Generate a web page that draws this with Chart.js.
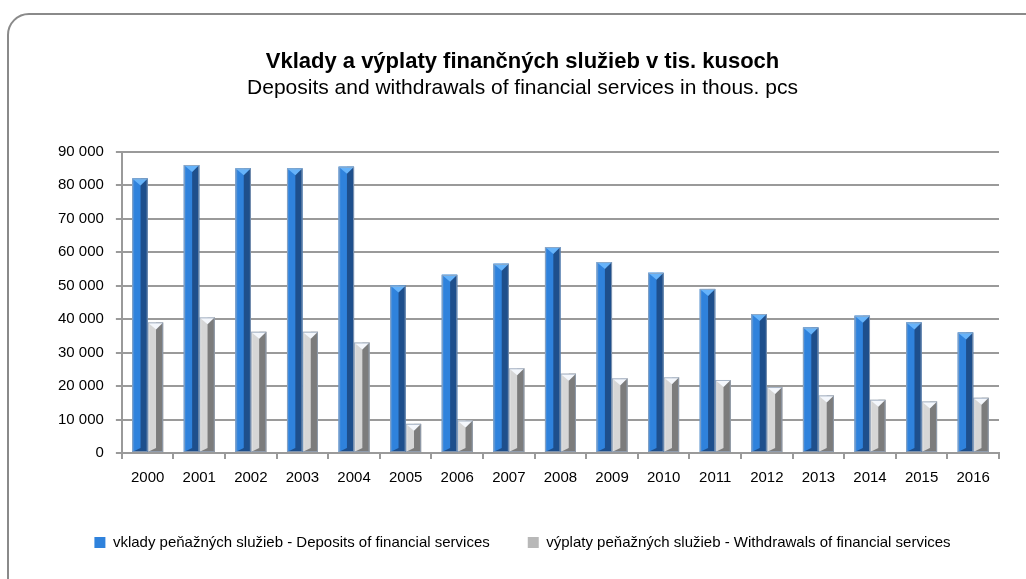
<!DOCTYPE html>
<html>
<head>
<meta charset="utf-8">
<script src="https://cdn.jsdelivr.net/npm/chart.js@4/dist/chart.umd.min.js"></script>
<style>
  html, body { margin: 0; padding: 0; background: #fff; overflow: hidden; }
  #wrap { position: relative; width: 1026px; height: 579px; }
  #frame {
    position: absolute; left: 7px; top: 13px; width: 1040px; height: 590px;
    border: 2px solid #8a8a8a; border-radius: 22px; box-sizing: border-box;
  }
  #chartCanvas { position: absolute; left: 0; top: 0; }
</style>
</head>
<body>
<div id="wrap">
  <div id="frame"></div>
  <canvas id="chartCanvas" width="1026" height="579"></canvas>
</div>
<script>
// Chart data.
var years = ['2000', '2001', '2002', '2003', '2004', '2005', '2006', '2007', '2008',
             '2009', '2010', '2011', '2012', '2013', '2014', '2015', '2016'];
var deposits = [82000, 86000, 85000, 85000, 85500, 50000, 53200, 56500, 61500,
                57000, 53800, 49000, 41500, 37500, 41000, 39000, 36000];
var withdrawals = [39000, 40500, 36200, 36200, 33000, 8700, 9700, 25300, 23700,
                   22300, 22600, 21800, 19700, 17200, 15900, 15400, 16500];
var depositsLabel = 'vklady peňažných služieb - Deposits of financial services';
var withdrawalsLabel = 'výplaty peňažných služieb - Withdrawals of financial services';
var titleText = 'Vklady a výplaty finančných služieb v tis. kusoch';
var subtitleText = 'Deposits and withdrawals of financial services in thous. pcs';
var yMax = 90000;
var yStep = 10000;

// Face colours for the pyramid-topped bars (light face, dark face, top).
var faces = [
    { light: '#2f82dc', edge: '#5b9be0', dark: '#1e4f8c', top: '#66b3fa' },
    { light: '#d6d6d6', edge: '#eeeeee', dark: '#7c7c7c', top: '#f4f7fc' }
];

// space as thousands separator, like "90 000"
function formatThousands(v) {
    return String(v).replace(/\B(?=(\d{3})+(?!\d))/g, ' ');
}

// Draws the shaded faces and the little pyramid top over each bar.
var bevelPlugin = {
    id: 'bevel',
    afterDatasetDraw: function (chart, args) {
        var ctx = chart.ctx;
        var pal = faces[args.index];
        args.meta.data.forEach(function (bar) {
            var p = bar.getProps(['x', 'y', 'base', 'width'], true);
            var x0 = p.x - p.width / 2, x1 = p.x + p.width / 2;
            var xm = p.x + p.width * 0.04;
            var tri = 7;
            ctx.save();
            // left face
            var g = ctx.createLinearGradient(x0, 0, xm, 0);
            g.addColorStop(0, pal.edge);
            g.addColorStop(0.3, pal.light);
            g.addColorStop(1, pal.light);
            ctx.fillStyle = g;
            ctx.fillRect(x0, p.y, xm - x0, p.base - p.y);
            // right face
            ctx.fillStyle = pal.dark;
            ctx.fillRect(xm, p.y, x1 - xm, p.base - p.y);
            // top pyramid
            ctx.beginPath();
            ctx.moveTo(x0, p.y);
            ctx.lineTo(x1, p.y);
            ctx.lineTo(xm, p.y + tri);
            ctx.closePath();
            ctx.fillStyle = pal.top;
            ctx.fill();
            // bottom bevel
            ctx.beginPath();
            ctx.moveTo(x0, p.base);
            ctx.lineTo(x1, p.base);
            ctx.lineTo(xm, p.base - 4);
            ctx.closePath();
            ctx.fillStyle = pal.dark;
            ctx.fill();
            // thin outline
            ctx.strokeStyle = 'rgba(150,165,185,0.8)';
            ctx.lineWidth = 1;
            ctx.strokeRect(x0 + 0.5, p.y + 0.5, p.width - 1, p.base - p.y - 1);
            ctx.restore();
        });
    }
};

function initChart() {
    var ctx = document.getElementById('chartCanvas').getContext('2d');
    Chart.defaults.font.family = '"Liberation Sans", Arial, sans-serif';
    Chart.defaults.color = '#000';
    new Chart(ctx, {
        type: 'bar',
        data: {
            labels: years,
            datasets: [{
                label: depositsLabel,
                data: deposits,
                backgroundColor: '#2f82dc',
                borderWidth: 0
            }, {
                label: withdrawalsLabel,
                data: withdrawals,
                backgroundColor: '#b8b8b8',
                borderWidth: 0
            }]
        },
        options: {
            responsive: false,
            animation: false,
            layout: { padding: { top: 40, left: 46, right: 27, bottom: 19 } },
            datasets: {
                bar: { categoryPercentage: 0.6, barPercentage: 1.0 }
            },
            plugins: {
                title: {
                    display: true,
                    text: titleText,
                    font: { size: 22, weight: 'bold' },
                    padding: { top: 9, bottom: 0 }
                },
                subtitle: {
                    display: true,
                    text: subtitleText,
                    color: '#000',
                    font: { size: 21 },
                    padding: { top: 0, bottom: 51 }
                },
                legend: {
                    position: 'bottom',
                    labels: {
                        boxWidth: 11,
                        boxHeight: 11,
                        padding: 38,
                        font: { size: 15 }
                    }
                },
                tooltip: { enabled: false }
            },
            scales: {
                x: {
                    grid: {
                        offset: true,
                        drawOnChartArea: false,
                        color: '#9a9a9a',
                        lineWidth: 2,
                        tickLength: 6
                    },
                    border: { color: '#9a9a9a', width: 2 },
                    ticks: { font: { size: 15 }, padding: 10 }
                },
                y: {
                    min: 0,
                    max: yMax,
                    ticks: {
                        stepSize: yStep,
                        font: { size: 15 },
                        padding: 12,
                        callback: function (v) { return formatThousands(v); }
                    },
                    grid: { color: '#9a9a9a', lineWidth: 2, tickLength: 6 },
                    border: { color: '#9a9a9a', width: 2 }
                }
            }
        },
        plugins: [bevelPlugin]
    });
}

initChart();
</script>
</body>
</html>
